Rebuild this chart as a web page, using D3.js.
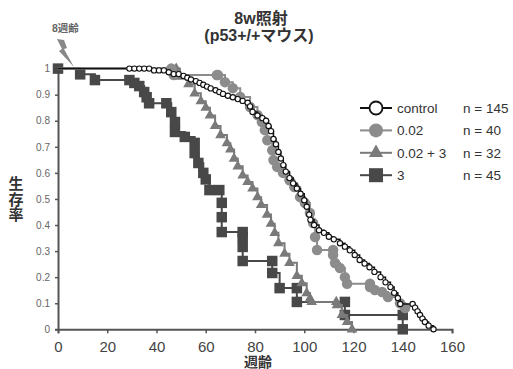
<!DOCTYPE html>
<html>
<head>
<meta charset="utf-8">
<script src="https://cdn.jsdelivr.net/npm/d3@7"></script>
<style>
  body { margin: 0; background: #fff; }
  svg { display: block; font-family: "Liberation Sans", "Noto Sans CJK JP", sans-serif; }
</style>
</head>
<body>
<svg id="chart" width="513" height="369"></svg>
<script>
// survival curves: [week, survival]
const controlData = [
  [0,1],[29,1],[31,1],[33,1],[35,1],[37,1],[39,0.993],[41,0.993],[43,0.993],[45,0.986],
  [47,0.979],[49,0.979],[51,0.972],[52.5,0.965],[54,0.958],[56,0.952],[57.5,0.945],[59,0.938],
  [60.5,0.931],[62,0.924],[64,0.917],[65.5,0.91],[67,0.903],[69,0.896],[71,0.89],[73,0.883],
  [75,0.876],[77,0.869],[78,0.855],[79,0.834],[81,0.82],[83,0.81],[84.5,0.8],[85.5,0.78],
  [86.5,0.76],[87.5,0.73],[88.5,0.71],[89.5,0.68],[90.5,0.655],[91.5,0.63],[92.5,0.605],
  [94,0.58],[95.5,0.56],[97,0.54],[98.5,0.52],[100,0.495],[101,0.47],[102,0.44],[102.5,0.42],
  [104,0.4],[106,0.38],[108,0.37],[110,0.355],[112,0.345],[114.5,0.33],[116.5,0.317],
  [118.5,0.303],[120.5,0.285],[122.5,0.266],[124.5,0.252],[126.5,0.238],[128.5,0.22],
  [131,0.2],[133,0.18],[135,0.162],[136.5,0.14],[138,0.12],[139,0.097],[144,0.097],
  [145,0.083],[146,0.069],[147,0.055],[148,0.041],[149,0.028],[150.5,0.014],[152.5,0]
];
const lowData = [
  [0,1],[46,1],[47,0.975],[64.5,0.975],[65,0.975],[67.8,0.948],[71,0.925],[74,0.891],
  [78,0.853],[81,0.822],[82.8,0.795],[84,0.764],[85,0.725],[87,0.687],[87.5,0.649],
  [89,0.623],[91.4,0.6],[94,0.572],[96,0.546],[98.3,0.507],[100.3,0.484],[102.3,0.446],
  [103.6,0.408],[104.4,0.354],[105.2,0.304],[111.7,0.304],[111.7,0.285],[112.5,0.254],
  [114.5,0.235],[116.5,0.2],[117.4,0.175],[126.7,0.175],[126.7,0.162],[128.7,0.151],
  [131.6,0.143],[134,0.124],[138.9,0.1],[141,0.082]
];
const comboData = [
  [0,1],[48,1],[49.5,0.969],[53,0.94],[55.5,0.905],[58,0.875],[60,0.85],[61.7,0.82],
  [63.8,0.78],[66,0.745],[68.6,0.714],[70,0.69],[71.5,0.655],[73,0.625],[75,0.59],
  [77,0.565],[79,0.54],[81,0.507],[82.5,0.477],[84.9,0.44],[86.5,0.405],[88,0.37],
  [89.5,0.33],[92,0.29],[94,0.255],[97,0.205],[99,0.177],[101,0.139],[102.3,0.118],
  [103,0.105],[113,0.105],[113.3,0.093],[115.3,0.055],[117.4,0.028],[119.4,0]
];
const highData = [
  [0,1],[9,0.978],[15,0.956],[29,0.956],[31,0.945],[33,0.933],[35,0.91],[36,0.89],
  [37,0.867],[44,0.867],[46,0.833],[47.5,0.795],[47.5,0.757],[51.5,0.738],[55.5,0.715],
  [55.5,0.676],[57,0.638],[59,0.6],[60,0.575],[61.5,0.534],[65.5,0.534],[66.5,0.485],
  [66.5,0.43],[66.5,0.373],[75,0.373],[75,0.354],[75,0.316],[75,0.262],[87,0.262],
  [87,0.216],[90,0.158],[97,0.158],[97,0.105],[116.5,0.105],[116.5,0.055],[140,0.055],[140,0]
];

const seriesNames = ["control", "0.02", "0.02 + 3", "3"];
const seriesN = [145, 40, 32, 45];
const xTicks = [0, 20, 40, 60, 80, 100, 120, 140, 160];
const yTicks = [0, 0.1, 0.2, 0.3, 0.4, 0.5, 0.6, 0.7, 0.8, 0.9, 1];

const series = [
  { name: seriesNames[0], n: seriesN[0], data: controlData, color: "#111", shape: "open", lw: 1.5 },
  { name: seriesNames[1], n: seriesN[1], data: lowData, color: "#8c8c8c", shape: "circle", lw: 2 },
  { name: seriesNames[2], n: seriesN[2], data: comboData, color: "#7a7a7a", shape: "triangle", lw: 2 },
  { name: seriesNames[3], n: seriesN[3], data: highData, color: "#484848", shape: "square", lw: 2 }
];

const svg = d3.select("#chart");
const x = d3.scaleLinear().domain([0, 160]).range([58, 452]);
const y = d3.scaleLinear().domain([0, 1]).range([329.3, 68.6]);

const axisColor = "#555";

// axes
const gx = svg.append("g").attr("transform", `translate(0,${y(0)})`)
  .call(d3.axisBottom(x).tickValues(xTicks).tickSize(4).tickPadding(8));
const gy = svg.append("g").attr("transform", `translate(${x(0)},0)`)
  .call(d3.axisLeft(y).tickValues(yTicks).tickSize(3).tickPadding(5)
    .tickFormat(d => (d === 0 || d === 1) ? d : d.toFixed(1)));
[gx, gy].forEach(g => {
  g.select(".domain").attr("stroke", axisColor).attr("stroke-width", 2);
  g.selectAll(".tick line").attr("stroke", axisColor).attr("stroke-width", 1.5);
});
gx.selectAll(".tick text").attr("font-size", 15).attr("fill", "#444");
gy.selectAll(".tick text").attr("font-size", 10).attr("fill", "#666");

function drawMarker(sel, shape, color, size) {
  if (shape === "open") {
    sel.append("circle").attr("r", size * 0.25).attr("fill", "#fff")
      .attr("stroke", color).attr("stroke-width", 1.1);
  } else if (shape === "circle") {
    sel.append("circle").attr("r", size * 0.5).attr("fill", color);
  } else {
    const sym = shape === "triangle" ? d3.symbolTriangle : d3.symbolSquare;
    const area = shape === "triangle" ? size * size * 0.45 : size * size;
    sel.append("path").attr("d", d3.symbol(sym, area)).attr("fill", color);
  }
}

const line = d3.line().x(d => x(d[0])).y(d => y(d[1])).curve(d3.curveStepAfter);

// draw back to front: squares, triangles, gray circles, control
[3, 2, 1, 0].forEach(i => {
  const s = series[i];
  const g = svg.append("g");
  g.append("path").attr("d", line(s.data)).attr("fill", "none")
    .attr("stroke", s.color).attr("stroke-width", s.lw);
  const pts = s.shape === "square" ? s.data : s.data.slice(1);
  g.selectAll("g.pt").data(pts).join("g").attr("class", "pt")
    .attr("transform", d => `translate(${x(d[0])},${y(d[1])})`)
    .each(function () { drawMarker(d3.select(this), s.shape, s.color, 10.5); });
});

// legend
const legend = svg.append("g");
series.forEach((s, i) => {
  const ly = 108 + i * 22.4;
  legend.append("line").attr("x1", 360).attr("x2", 392).attr("y1", ly).attr("y2", ly)
    .attr("stroke", s.shape === "open" ? "#111" : s.color).attr("stroke-width", 2);
  const m = legend.append("g").attr("transform", `translate(376,${ly})`);
  if (s.shape === "open") {
    m.append("circle").attr("r", 6.5).attr("fill", "#fff").attr("stroke", "#111").attr("stroke-width", 1.8);
  } else {
    drawMarker(m, s.shape, s.color, 14);
  }
  legend.append("text").attr("x", 397).attr("y", ly).attr("dy", "0.35em")
    .attr("font-size", 13.5).attr("fill", "#333").text(s.name);
  legend.append("text").attr("x", 463).attr("y", ly).attr("dy", "0.35em")
    .attr("font-size", 13.5).attr("fill", "#333").text("n = " + s.n);
});

// title
const title = svg.append("g").attr("font-weight", "bold").attr("fill", "#333")
  .attr("text-anchor", "middle").attr("font-size", 16);
title.append("text").attr("x", 261).attr("y", 24).text("8w照射");
title.append("text").attr("x", 259).attr("y", 41).text("(p53+/+マウス)");

// axis titles
svg.append("text").attr("x", 258).attr("y", 367).attr("text-anchor", "middle")
  .attr("font-size", 14).attr("font-weight", "bold").attr("fill", "#333").text("週齢");
const yl = svg.append("text").attr("text-anchor", "middle").attr("font-size", 15)
  .attr("font-weight", "bold").attr("fill", "#333");
["生", "存", "率"].forEach((c, i) => {
  yl.append("tspan").attr("x", 16).attr("y", 189 + i * 15.5).text(c);
});

// start-age annotation
svg.append("text").attr("x", 52).attr("y", 32).attr("font-size", 10.5)
  .attr("font-weight", "bold").attr("fill", "#666").text("8週齢");
svg.append("path").attr("d", "M57,39 L64,40 L67,48 L64,49 L74,67 L59,51 L62,49 Z")
  .attr("fill", "#888");
</script>
</body>
</html>
